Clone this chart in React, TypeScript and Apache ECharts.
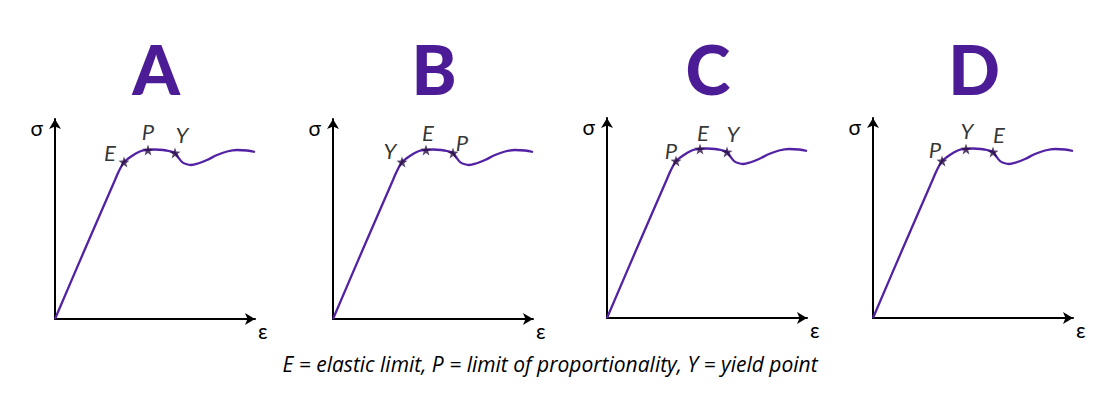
import React, { useEffect, useRef } from "react";
import * as echarts from "echarts";

// ---- data ----
const panelTitles = ["A", "B", "C", "D"];
// stress-strain curve (strain, stress) in relative plot units
const curveStrain = [0, 30, 60, 63, 66, 69, 74, 80, 86, 93, 100, 108, 114, 120, 123, 127, 131, 136, 143, 152, 162, 172, 182, 192, 200];
const curveStress = [0, 70, 139, 146, 152, 157, 161, 165, 168, 169, 169.5, 169, 168, 166, 162, 157, 155, 154, 155.5, 159, 164, 167.5, 169, 168.5, 167];
// marked points on the curve (same positions in every panel)
const markStrain = [69, 93, 120];
const markStress = [157, 169, 166];
// labels of the marked points per panel
const markLabels = [
  ["E", "P", "Y"],
  ["Y", "E", "P"],
  ["P", "E", "Y"],
  ["P", "Y", "E"],
];
const caption = "E = elastic limit, P = limit of proportionality, Y = yield point";

// ---- layout / style ----
const ORIGIN_X = [55, 333, 607, 873];
const ORIGIN_Y = [319, 319, 318, 318];
const AX_W = 200;
const AX_H = 200;
const labelOffsets = [
  [[-14, -10], [0, -19], [7, -19]],
  [[-12, -12], [2, -18], [9, -11]],
  [[-5, -11], [3, -17], [6, -19]],
  [[-7, -12], [1, -19], [6, -18]],
];
const PURPLE = "#4B1C96";
const LINE = "#5321A3";
const STAR = "#2C1247";
const FONT = "Lato, 'Open Sans', sans-serif";
const CAPTION_FONT = "'Open Sans', Lato, sans-serif";
const STAR_PATH =
  "path://M0,-10L2.35,-3.24L9.51,-3.09L3.8,1.24L5.88,8.09L0,4L-5.88,8.09L-3.8,1.24L-9.51,-3.09L-2.35,-3.24Z";

export default function App() {
  const ref = useRef<HTMLDivElement>(null);
  useEffect(() => {
    if (!ref.current) return;
    const chart = echarts.init(ref.current, null, { renderer: "svg" });
    const grids: any[] = [];
    const xAxes: any[] = [];
    const yAxes: any[] = [];
    const series: any[] = [];
    const graphics: any[] = [];
    panelTitles.forEach((t, i) => {
      grids.push({
        left: ORIGIN_X[i],
        top: ORIGIN_Y[i] - AX_H,
        width: AX_W,
        height: AX_H,
      });
      const axisLine = {
        show: true,
        lineStyle: { color: "#000", width: 2 },
        symbol: ["none", "arrow"],
        symbolSize: [9, 10],
      };
      xAxes.push({
        type: "value",
        gridIndex: i,
        min: 0,
        max: AX_W,
        axisLine,
        axisTick: { show: false },
        axisLabel: { show: false },
        splitLine: { show: false },
        name: "ε",
        nameLocation: "end",
        nameGap: 3,
        nameTextStyle: {
          fontFamily: FONT,
          fontSize: 21,
          color: "#000",
          align: "left",
          verticalAlign: "top",
          padding: [1, 0, 0, 0],
        },
      });
      yAxes.push({
        type: "value",
        gridIndex: i,
        min: 0,
        max: AX_H,
        axisLine,
        axisTick: { show: false },
        axisLabel: { show: false },
        splitLine: { show: false },
        name: "σ",
        nameLocation: "end",
        nameGap: -8,
        nameTextStyle: {
          fontFamily: FONT,
          fontSize: 21,
          color: "#000",
          align: "right",
          verticalAlign: "middle",
          padding: [0, 12, 0, 0],
        },
      });
      series.push({
        type: "line",
        xAxisIndex: i,
        yAxisIndex: i,
        data: curveStrain.map((x, k) => [x, curveStress[k]]),
        smooth: 0.35,
        showSymbol: false,
        clip: false,
        lineStyle: { color: LINE, width: 2.3 },
        z: 2,
      });
      series.push({
        type: "scatter",
        xAxisIndex: i,
        yAxisIndex: i,
        symbol: STAR_PATH,
        symbolSize: 11,
        itemStyle: { color: STAR },
        z: 3,
        data: markStrain.map((x, k) => ({
          value: [x, markStress[k]],
          name: markLabels[i][k],
          label: {
            show: true,
            formatter: markLabels[i][k],
            position: "inside",
            offset: labelOffsets[i][k],
            fontFamily: FONT,
            fontStyle: "italic",
            fontSize: 22,
            color: "#000",
          },
        })),
      });
      graphics.push({
        type: "text",
        x: ORIGIN_X[i] + 101,
        y: 68,
        style: {
          text: t,
          align: "center",
          verticalAlign: "middle",
          fontFamily: FONT,
          fontWeight: 900,
          fontSize: 68,
          fill: PURPLE,
        },
      });
    });
    graphics.push({
      type: "text",
      x: 550,
      y: 364,
      style: {
        text: caption,
        align: "center",
        verticalAlign: "middle",
        fontFamily: CAPTION_FONT,
        fontStyle: "italic",
        fontSize: 21,
        fill: "#000",
      },
    });
    chart.setOption({
      animation: false,
      backgroundColor: "#fff",
      grid: grids,
      xAxis: xAxes,
      yAxis: yAxes,
      series,
      graphic: graphics,
    });
    return () => chart.dispose();
  }, []);
  return (
    <div
      ref={ref}
      style={{ position: "fixed", left: 0, top: 0, width: 1112, height: 416 }}
    />
  );
}
